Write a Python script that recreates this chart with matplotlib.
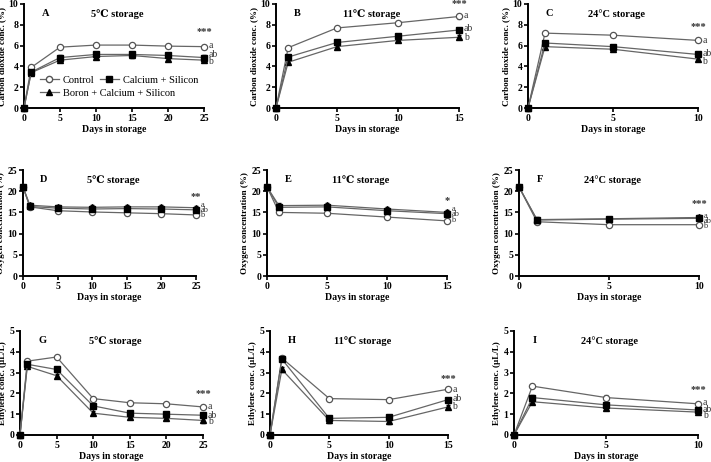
import matplotlib
matplotlib.use('Agg')
import matplotlib.pyplot as plt
from matplotlib.lines import Line2D

plt.rcParams['font.family'] = ['Liberation Serif', 'DejaVu Serif']
plt.rcParams['font.weight'] = 'bold'

days_5 = [0, 1, 5, 10, 15, 20, 25]
days_11 = [0, 1, 5, 10, 15]
days_24 = [0, 1, 5, 10]

# carbon dioxide (%)
co2_5_ctrl = [0, 3.9, 5.85, 6.05, 6.05, 5.95, 5.9]
co2_5_casi = [0, 3.45, 4.85, 5.15, 5.15, 5.05, 4.85]
co2_5_bcasi = [0, 3.4, 4.6, 4.95, 5.05, 4.75, 4.6]
co2_11_ctrl = [0, 5.8, 7.7, 8.2, 8.8]
co2_11_casi = [0, 4.9, 6.3, 6.9, 7.5]
co2_11_bcasi = [0, 4.4, 5.9, 6.5, 6.8]
co2_24_ctrl = [0, 7.2, 7.0, 6.5]
co2_24_casi = [0, 6.25, 5.9, 5.15]
co2_24_bcasi = [0, 5.9, 5.65, 4.7]

# oxygen (%)
o2_5_ctrl = [21, 16.3, 15.4, 15.1, 14.9, 14.7, 14.4]
o2_5_casi = [21, 16.4, 16.0, 15.8, 15.9, 15.8, 15.6]
o2_5_bcasi = [21, 16.7, 16.3, 16.2, 16.3, 16.3, 16.1]
o2_11_ctrl = [21, 15.0, 14.8, 13.9, 13.0]
o2_11_casi = [21, 16.2, 16.3, 15.4, 14.7]
o2_11_bcasi = [21, 16.6, 16.7, 15.8, 15.0]
o2_24_ctrl = [21, 12.8, 12.1, 12.1]
o2_24_casi = [21, 13.2, 13.4, 13.6]
o2_24_bcasi = [21, 13.3, 13.5, 13.8]

# ethylene (uL/L)
eth_5_ctrl = [0, 3.55, 3.75, 1.75, 1.55, 1.5, 1.35]
eth_5_casi = [0, 3.4, 3.15, 1.4, 1.05, 1.0, 0.95]
eth_5_bcasi = [0, 3.3, 2.85, 1.05, 0.85, 0.8, 0.7]
eth_11_ctrl = [0, 3.7, 1.75, 1.7, 2.2]
eth_11_casi = [0, 3.65, 0.8, 0.85, 1.7]
eth_11_bcasi = [0, 3.15, 0.7, 0.65, 1.35]
eth_24_ctrl = [0, 2.35, 1.8, 1.5]
eth_24_casi = [0, 1.8, 1.45, 1.2]
eth_24_bcasi = [0, 1.6, 1.3, 1.1]

panels = [
    # letter, title, days, ctrl, casi, bcasi, ymax, ystep, ylabel, stars, star_y, letter ys
    ('A', '5\u2103 storage', days_5, co2_5_ctrl, co2_5_casi, co2_5_bcasi, 10, 2,
     'Carbon dioxide conc. (%)', '***', 6.9, [6.0, 5.1, 4.5]),
    ('B', '11\u2103 storage', days_11, co2_11_ctrl, co2_11_casi, co2_11_bcasi, 10, 2,
     'Carbon dioxide conc. (%)', '***', 9.6, [8.9, 7.6, 6.8]),
    ('C', '24\u00b0C storage', days_24, co2_24_ctrl, co2_24_casi, co2_24_bcasi, 10, 2,
     'Carbon dioxide conc. (%)', '***', 7.4, [6.5, 5.2, 4.5]),
    ('D', '5\u2103 storage', days_5, o2_5_ctrl, o2_5_casi, o2_5_bcasi, 25, 5,
     'Oxygen concentration (%)', '**', 17.8, [16.8, 15.6, 14.4]),
    ('E', '11\u2103 storage', days_11, o2_11_ctrl, o2_11_casi, o2_11_bcasi, 25, 5,
     'Oxygen concentration (%)', '*', 16.8, [15.8, 14.6, 13.2]),
    ('F', '24\u00b0C storage', days_24, o2_24_ctrl, o2_24_casi, o2_24_bcasi, 25, 5,
     'Oxygen concentration (%)', '***', 16.0, [14.2, 13.0, 11.8]),
    ('G', '5\u2103 storage', days_5, eth_5_ctrl, eth_5_casi, eth_5_bcasi, 5, 1,
     'Ethylene conc. (\u00b5L/L)', '***', 1.8, [1.35, 0.95, 0.65]),
    ('H', '11\u2103 storage', days_11, eth_11_ctrl, eth_11_casi, eth_11_bcasi, 5, 1,
     'Ethylene conc. (\u00b5L/L)', '***', 2.5, [2.2, 1.75, 1.35]),
    ('I', '24\u00b0C storage', days_24, eth_24_ctrl, eth_24_casi, eth_24_bcasi, 5, 1,
     'Ethylene conc. (\u00b5L/L)', '***', 1.95, [1.55, 1.25, 0.95]),
]

# axes boxes in pixels (left, bottom-y, width, height) on a 711x462 canvas
boxes = [
    (24, 108, 180, 104), (276, 108, 183, 104), (528, 108, 170, 104),
    (23, 276, 173, 106), (267, 276, 180, 106), (519, 276, 180, 106),
    (20, 435, 183, 104), (270, 435, 178, 104), (514, 435, 184, 104),
]

W, H = 711, 462
fig = plt.figure(figsize=(7.11, 4.62), dpi=100)

line_col = '#666666'
for (letter, title, d, c, cs, bcs, ymax, ystep, ylab, stars, sy, lys), (l, b, w, h) in zip(panels, boxes):
    ax = fig.add_axes([l / W, (H - b) / H, w / W, h / H])
    err = ymax * 0.02
    ax.errorbar(d, c, yerr=err, color=line_col, lw=0.9, marker='o', ms=4.5,
                mfc='white', mec='#555555', mew=0.9, capsize=1.5, elinewidth=0.7,
                clip_on=False, zorder=3)
    ax.errorbar(d, bcs, yerr=err, color=line_col, lw=0.9, marker='^', ms=4,
                mfc='black', mec='black', capsize=1.5, elinewidth=0.7, ecolor='black',
                clip_on=False, zorder=4)
    ax.errorbar(d, cs, yerr=err, color=line_col, lw=0.9, marker='s', ms=4,
                mfc='black', mec='black', capsize=1.5, elinewidth=0.7, ecolor='black',
                clip_on=False, zorder=5)
    ax.set_xlim(0, d[-1])
    ax.set_ylim(0, ymax)
    ax.set_xticks(range(0, d[-1] + 1, 5))
    ax.set_yticks(range(0, ymax + 1, ystep))
    for s in ['top', 'right']:
        ax.spines[s].set_visible(False)
    for s in ['left', 'bottom']:
        ax.spines[s].set_linewidth(1.4)
    ax.tick_params(labelsize=7, width=1.2, length=3, pad=1)
    for t in ax.get_xticklabels() + ax.get_yticklabels():
        t.set_fontweight('bold')
    ax.set_xlabel('Days in storage', fontsize=7, fontweight='bold', labelpad=2)
    ax.set_ylabel(ylab, fontsize=6.5, fontweight='bold', labelpad=2)
    ax.text(0.1, 0.95, letter, transform=ax.transAxes, fontsize=7.5,
            fontweight='bold', va='top', ha='left')
    ax.text(0.52, 0.95, title, transform=ax.transAxes, fontsize=7.5,
            fontweight='bold', va='top', ha='center')
    ax.text(d[-1], sy, stars, fontsize=7.5, ha='center', va='bottom', color='#333333')
    lsize = 6 if ymax == 25 else 7
    for txt, yy in zip(['a', 'ab', 'b'], lys):
        ax.text(d[-1] * 1.025, yy, txt, fontsize=lsize, fontweight='normal',
                ha='left', va='center', color='#333333')
    if letter == 'A':
        h_ctrl = Line2D([], [], color=line_col, lw=0.9, marker='o', ms=4.5,
                        mfc='white', mec='#555555')
        h_casi = Line2D([], [], color=line_col, lw=0.9, marker='s', ms=4,
                        mfc='black', mec='black')
        h_bcasi = Line2D([], [], color=line_col, lw=0.9, marker='^', ms=4,
                         mfc='black', mec='black')
        kw = dict(frameon=False, prop={'weight': 'normal', 'size': 7.5},
                  handlelength=1.8, columnspacing=0.5, borderpad=0,
                  handletextpad=0.4, loc='upper left')
        leg1 = ax.legend([h_ctrl, h_casi], ['Control', 'Calcium + Silicon'], ncol=2,
                         bbox_to_anchor=(0.06, 0.36), **kw)
        ax.add_artist(leg1)
        ax.legend([h_bcasi], ['Boron + Calcium + Silicon'],
                  bbox_to_anchor=(0.06, 0.24), **kw)

fig.savefig('out.png', dpi=100)
